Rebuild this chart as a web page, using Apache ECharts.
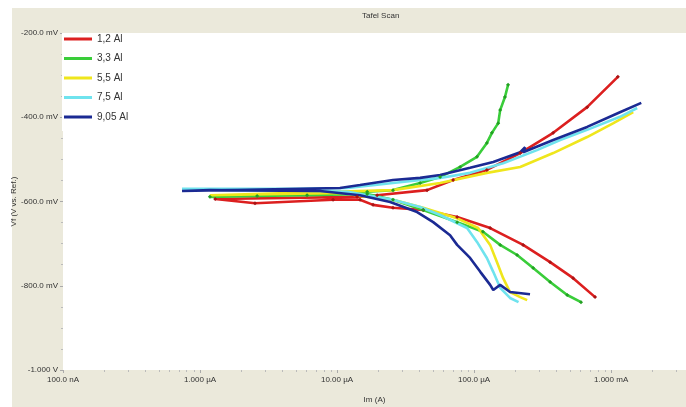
<!DOCTYPE html>
<html>
<head>
<meta charset="utf-8">
<script src="https://cdn.jsdelivr.net/npm/echarts@6/dist/echarts.min.js"></script>
<style>
  html, body { margin: 0; padding: 0; background: #fff; }
  #chart { width: 686px; height: 407px; }
</style>
</head>
<body>
<div id="chart"></div>
<script>
// Tick labels
const xTickLabels = ['100.0 nA', '1.000 \u00b5A', '10.00 \u00b5A', '100.0 \u00b5A', '1.000 mA'];
const yTickValues = [-1000, -800, -600, -400, -200];
const yTickLabels = ['-1.000 V', '-800.0 mV', '-600.0 mV', '-400.0 mV', '-200.0 mV'];

// Series names and colours
const seriesNames = ['1,2 Al', '3,3 Al', '5,5 Al', '7,5 Al', '9,05 Al'];
const seriesColors = ['#dc1f1f', '#3acd3a', '#efe61c', '#6fe3ee', '#1b2a93'];
const markerColors = ['#a81414', '#23a023', null, null, null];

// Scan data, [current A, potential mV], cathodic end -> Ecorr -> anodic end
const al12 = [
  [7.64e-4, -827], [5.29e-4, -782], [3.59e-4, -744], [2.28e-4, -703], [1.31e-4, -663],
  [7.52e-5, -637], [4.25e-5, -620], [2.56e-5, -615], [1.83e-5, -608], [1.47e-5, -596],
  [9.35e-6, -596], [2.52e-6, -604], [1.29e-6, -594],
  [1.40e-5, -589], [1.96e-5, -585], [4.54e-5, -573], [7.03e-5, -549], [1.24e-4, -525],
  [2.17e-4, -485], [3.78e-4, -437], [6.68e-4, -376], [1.12e-3, -304]
];
const al33 = [
  [6.03e-4, -839], [4.78e-4, -822], [3.59e-4, -791], [2.70e-4, -758], [2.06e-4, -727],
  [1.55e-4, -703], [1.16e-4, -672], [7.52e-5, -649], [4.25e-5, -620], [2.56e-5, -596],
  [1.66e-5, -582], [6.04e-6, -585], [2.61e-6, -587], [1.18e-6, -589],
  [1.66e-5, -577], [2.56e-5, -573], [4.04e-5, -556], [5.65e-5, -542], [7.91e-5, -518],
  [1.05e-4, -494], [1.24e-4, -461], [1.35e-4, -437], [1.50e-4, -414], [1.55e-4, -383],
  [1.68e-4, -352], [1.77e-4, -323]
];
const al55 = [
  [2.44e-4, -834], [2.17e-4, -827], [1.83e-4, -815], [1.63e-4, -782], [1.47e-4, -744],
  [1.31e-4, -703], [1.07e-4, -663], [7.52e-5, -640], [4.25e-5, -615], [2.56e-5, -596],
  [1.47e-5, -587], [1.11e-5, -580], [1.18e-6, -585],
  [2.56e-5, -573], [5.65e-5, -556], [1.24e-4, -532], [2.17e-4, -518], [3.78e-4, -485],
  [6.68e-4, -447], [1.04e-3, -414], [1.45e-3, -388]
];
const al75 = [
  [2.11e-4, -839], [1.83e-4, -829], [1.55e-4, -805], [1.38e-4, -767], [1.24e-4, -734],
  [1.05e-4, -696], [8.89e-5, -663], [5.65e-5, -632], [4.04e-5, -613], [2.56e-5, -596],
  [1.20e-5, -577], [7.52e-6, -575], [1.96e-6, -573], [7.39e-7, -570],
  [5.11e-6, -570], [1.20e-5, -568], [2.56e-5, -556], [5.65e-5, -544], [9.35e-5, -532],
  [1.63e-4, -509], [2.88e-4, -478], [4.25e-4, -454], [6.68e-4, -430], [1.16e-3, -399],
  [1.55e-3, -378]
];
const al905 = [
  [2.56e-4, -820], [1.83e-4, -815], [1.55e-4, -798], [1.38e-4, -810], [1.31e-4, -798],
  [1.11e-4, -767], [9.35e-5, -734], [7.52e-5, -703], [6.68e-5, -680], [5.03e-5, -649],
  [3.84e-5, -625], [2.44e-5, -601], [1.47e-5, -585], [7.52e-6, -575], [1.18e-6, -573],
  [7.39e-7, -575],
  [1.05e-5, -568], [1.47e-5, -561], [2.56e-5, -549], [4.04e-5, -544], [5.65e-5, -537],
  [9.35e-5, -520], [1.38e-4, -506], [2.17e-4, -483], [2.36e-4, -471], [2.28e-4, -483],
  [3.78e-4, -454], [6.68e-4, -423], [1.16e-3, -388], [1.66e-3, -366]
];
const seriesData = [al12, al33, al55, al75, al905];

const chart = echarts.init(document.getElementById('chart'));
const labelFont = '"Liberation Sans Narrow", "Liberation Sans", Arial, sans-serif';

chart.setOption({
  backgroundColor: '#ffffff',
  animation: false,
  graphic: [
    {
      type: 'rect',
      z: -10,
      silent: true,
      shape: { x: 12, y: 8, width: 674, height: 399 },
      style: { fill: '#ebe9db' }
    }
  ],
  title: {
    text: 'Tafel Scan',
    left: 357,
    top: 7,
    textStyle: { fontSize: 8, fontWeight: 'normal', color: '#333', fontFamily: labelFont }
  },
  legend: {
    orient: 'vertical',
    left: 62,
    top: 33,
    padding: [0, 14, 8, 2],
    backgroundColor: '#ffffff',
    itemWidth: 28,
    itemHeight: 3,
    itemGap: 7.5,
    icon: 'rect',
    textStyle: { fontSize: 10, color: '#333', fontFamily: labelFont, lineHeight: 12 },
    data: seriesNames.map(function (name, k) {
      return { name: name, itemStyle: { color: seriesColors[k] } };
    })
  },
  grid: {
    left: 63,
    right: 0,
    top: 33,
    bottom: 37,
    outerBoundsMode: 'none',
    containLabel: false,
    show: true,
    backgroundColor: '#ffffff',
    borderWidth: 0
  },
  xAxis: {
    type: 'log',
    logBase: 10,
    min: 1e-7,
    max: 3.52e-3,
    name: 'Im (A)',
    nameLocation: 'middle',
    nameGap: 26,
    nameMoveOverlap: false,
    nameTextStyle: { fontSize: 8, color: '#333', fontFamily: labelFont },
    axisLine: { show: false },
    axisTick: { show: true, length: 3, lineStyle: { color: '#aaa' } },
    minorTick: { show: true, splitNumber: 9, length: 2, lineStyle: { color: '#bbb' } },
    splitLine: { show: false },
    axisLabel: {
      fontSize: 8,
      color: '#333',
      fontFamily: labelFont,
      margin: 6,
      showMaxLabel: false,
      formatter: function (v) {
        const i = Math.round(Math.log10(v)) + 7;
        return xTickLabels[i] || '';
      }
    }
  },
  yAxis: {
    type: 'value',
    min: -1000,
    max: -200,
    interval: 200,
    name: 'Vf (V vs. Ref.)',
    nameLocation: 'middle',
    nameGap: 45,
    nameMoveOverlap: false,
    nameTextStyle: { fontSize: 8, color: '#333', fontFamily: labelFont },
    axisLine: { show: false },
    axisTick: { show: true, length: 3, lineStyle: { color: '#aaa' } },
    minorTick: { show: true, splitNumber: 4, length: 2, lineStyle: { color: '#bbb' } },
    splitLine: { show: false },
    axisLabel: {
      fontSize: 8,
      color: '#333',
      fontFamily: labelFont,
      margin: 5,
      formatter: function (v) {
        const i = yTickValues.indexOf(Math.round(v));
        return i >= 0 ? yTickLabels[i] : '';
      }
    }
  },
  series: seriesNames.map(function (name, k) {
    const marked = !!markerColors[k];
    return {
      name: name,
      type: 'line',
      data: seriesData[k],
      color: seriesColors[k],
      showSymbol: marked,
      symbol: marked ? 'diamond' : 'none',
      symbolSize: 4,
      itemStyle: { color: marked ? markerColors[k] : seriesColors[k], borderWidth: 0 },
      lineStyle: { width: 2.6, color: seriesColors[k] }
    };
  })
});
</script>
</body>
</html>
